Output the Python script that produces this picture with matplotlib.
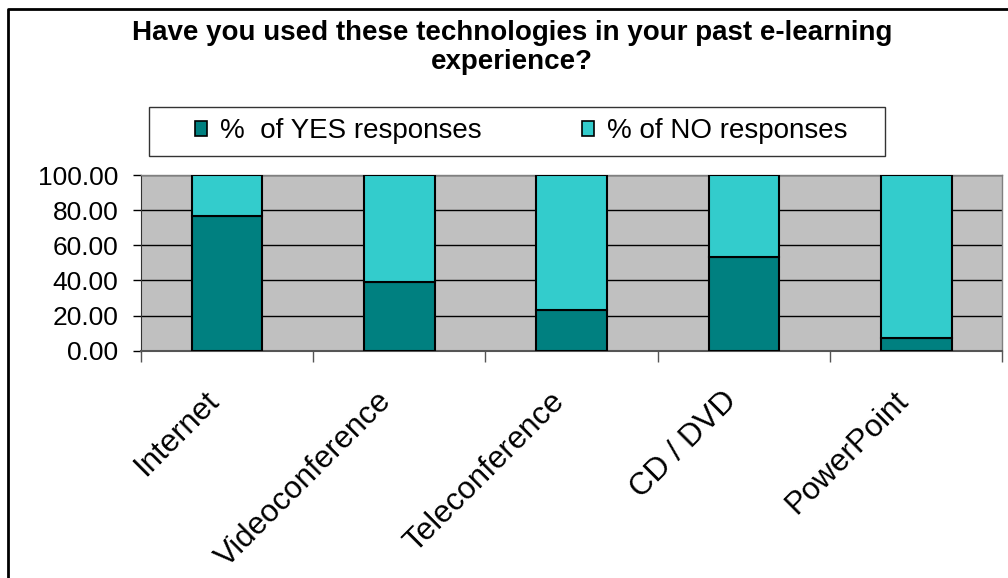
import matplotlib.pyplot as plt
from matplotlib.patches import Rectangle
from matplotlib.lines import Line2D
from matplotlib.ticker import FormatStrFormatter
from matplotlib.transforms import ScaledTranslation

categories = ['Internet', 'Videoconference', 'Teleconference', 'CD / DVD', 'PowerPoint']
yes_pct = [76.7, 38.9, 23.0, 53.5, 7.0]
no_pct = [100 - v for v in yes_pct]
yticks = [0, 20, 40, 60, 80, 100]

plt.rcParams['font.family'] = ['Liberation Sans', 'DejaVu Sans']

fig = plt.figure(figsize=(10.08, 5.78), dpi=100)
ax = fig.add_axes([0.1396, 0.3933, 0.8548, 0.3039])
ax.set_facecolor('#c0c0c0')

x = range(len(categories))
ax.bar(x, yes_pct, width=0.41, color='#008080', edgecolor='black', linewidth=1.5,
       label='%  of YES responses', zorder=3)
ax.bar(x, no_pct, width=0.41, bottom=yes_pct, color='#33cccc', edgecolor='black',
       linewidth=1.5, label='% of NO responses', zorder=3)

ax.set_xlim(-0.5, len(categories) - 0.5)
ax.set_ylim(0, 100)
ax.set_yticks(yticks)
ax.yaxis.set_major_formatter(FormatStrFormatter('%.2f'))
ax.tick_params(axis='y', direction='out', length=6, width=1, pad=10, labelsize=19)
ax.grid(axis='y', color='black', linewidth=1, zorder=1)

# category boundaries get the tick marks, labels sit at the centres
ax.set_xticks([i - 0.5 for i in range(len(categories) + 1)])
ax.set_xticklabels([])
ax.tick_params(axis='x', which='major', direction='out', length=8, width=1, color='#555555')
ax.set_xticks(list(x), minor=True)
ax.set_xticklabels(categories, minor=True, rotation=45, ha='right', va='center',
                   rotation_mode='anchor', fontsize=22.5)
ax.tick_params(axis='x', which='minor', length=0, pad=33)
shift = ScaledTranslation(-12 / 100, 0, fig.dpi_scale_trans)
for lab in ax.get_xticklabels(minor=True):
    lab.set_transform(lab.get_transform() + shift)

for side in ['top', 'right']:
    ax.spines[side].set_color('#808080')
    ax.spines[side].set_linewidth(1)
ax.spines['left'].set_color('#333333')
ax.spines['bottom'].set_color('#555555')
ax.spines['bottom'].set_linewidth(1.5)

fig.text(0.508, 1 - 20 / 578,
         'Have you used these technologies in your past e-learning\nexperience?',
         ha='center', va='top', fontsize=20, fontweight='bold', linespacing=1.15)

# legend box
fig.add_artist(Rectangle((149 / 1008, 1 - 156 / 578), 736 / 1008, 49 / 578,
                         transform=fig.transFigure, facecolor='white',
                         edgecolor='#333333', linewidth=1))
leg = fig.legend(loc='center', bbox_to_anchor=(521 / 1008, 1 - 131 / 578), ncol=2,
                 frameon=False, fontsize=20, handlelength=0.45, handleheight=0.45,
                 handletextpad=0.45, columnspacing=3.6)
for h in leg.legend_handles:
    h.set_linewidth(1.2)

# outer chart border (open at right and bottom)
fig.add_artist(Line2D([8 / 1008, 8 / 1008, 1.01], [-0.01, 1 - 9 / 578, 1 - 9 / 578],
                      transform=fig.transFigure, color='black', linewidth=2))

fig.savefig('out.png', dpi=100)
